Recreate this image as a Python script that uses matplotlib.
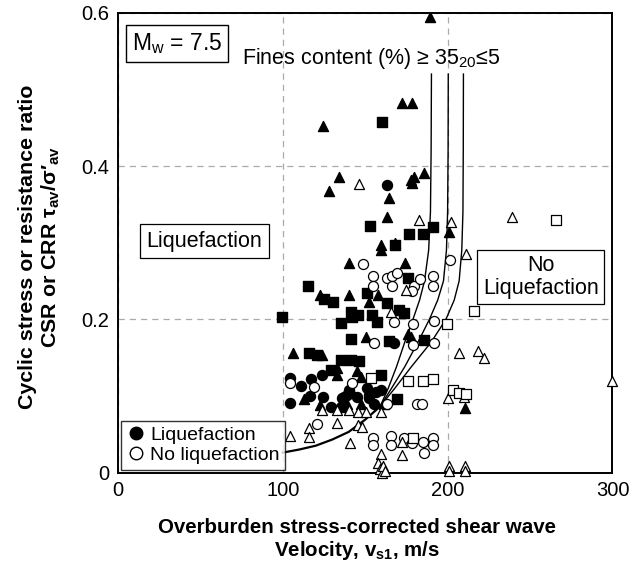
import matplotlib
matplotlib.use("Agg")
import matplotlib.pyplot as plt
from matplotlib.lines import Line2D

plt.rcParams['font.family'] = ['Liberation Sans', 'DejaVu Sans']
plt.rcParams['mathtext.fontset'] = 'custom'
plt.rcParams['mathtext.rm'] = 'Liberation Sans'
plt.rcParams['mathtext.it'] = 'Liberation Sans:italic'
plt.rcParams['mathtext.bf'] = 'Liberation Sans:bold'

# --- data (vs1 in m/s, ratio) ---
liq_circle_x = [163.5, 104.7, 111.2, 117.3, 124.0, 104.3, 116.8, 124.6, 167.5, 136.1,
                139.2, 145.3, 151.3, 152.3, 159.4, 155.4, 129.0, 135.1, 137.1, 140.1,
                156.4, 152.3, 137.1]
liq_circle_y = [0.375, 0.123, 0.113, 0.122, 0.127, 0.091, 0.100, 0.098, 0.169, 0.097,
                0.101, 0.099, 0.110, 0.097, 0.108, 0.090, 0.086, 0.086, 0.099, 0.108,
                0.105, 0.101, 0.086]

liq_tri_x = [189.3, 124.6, 172.2, 178.7, 134.1, 128.0, 164.5, 177.7, 179.7, 185.4,
             178.7, 163.1, 201.0, 159.4, 159.4, 168.0, 140.1, 174.0, 122.9, 140.4,
             152.3, 157.8, 150.3, 175.7, 177.7, 106.3, 124.0, 133.1, 133.1, 145.3,
             147.3, 112.8, 142.2, 147.3, 139.2, 161.4, 122.9, 210.5]
liq_tri_y = [0.595, 0.452, 0.482, 0.482, 0.385, 0.367, 0.358, 0.382, 0.386, 0.391,
             0.378, 0.334, 0.314, 0.297, 0.290, 0.300, 0.274, 0.273, 0.232, 0.232,
             0.222, 0.232, 0.177, 0.181, 0.177, 0.156, 0.153, 0.136, 0.127, 0.132,
             0.125, 0.096, 0.105, 0.090, 0.090, 0.090, 0.088, 0.084]

liq_sq_x = [160.5, 152.9, 190.9, 176.6, 184.8, 168.0, 175.7, 115.5, 124.9, 130.7,
            150.9, 163.5, 170.6, 173.6, 99.8, 141.2, 145.6, 154.4, 135.1, 142.2,
            157.4, 141.2, 164.5, 185.8, 115.8, 120.9, 135.1, 141.2, 146.2, 129.0,
            159.4, 169.6]
liq_sq_y = [0.457, 0.322, 0.321, 0.311, 0.311, 0.297, 0.254, 0.243, 0.226, 0.222,
            0.234, 0.221, 0.212, 0.208, 0.203, 0.210, 0.206, 0.206, 0.195, 0.203,
            0.197, 0.174, 0.171, 0.173, 0.156, 0.153, 0.147, 0.147, 0.145, 0.134,
            0.127, 0.096]

noliq_circle_x = [148.9, 155.0, 163.5, 166.5, 169.6, 166.5, 155.0, 179.7, 183.3, 191.2,
                  191.2, 178.7, 167.2, 179.3, 191.5, 155.4, 179.3, 191.5, 201.4, 142.2,
                  104.7, 118.9, 120.5, 181.3, 184.2, 163.5, 155.0, 155.0, 165.9, 165.9,
                  173.6, 178.7, 185.8, 190.9, 190.9, 184.8]
noliq_circle_y = [0.272, 0.256, 0.254, 0.256, 0.261, 0.243, 0.243, 0.243, 0.252, 0.256,
                  0.243, 0.237, 0.197, 0.194, 0.198, 0.169, 0.166, 0.169, 0.277, 0.117,
                  0.117, 0.111, 0.063, 0.089, 0.089, 0.090, 0.045, 0.036, 0.048, 0.036,
                  0.045, 0.038, 0.026, 0.045, 0.036, 0.040]

noliq_tri_x = [146.2, 182.7, 202.0, 211.0, 174.6, 165.9, 207.0, 239.1, 218.6, 221.9,
               300.0, 200.0, 210.0, 124.0, 133.1, 140.1, 145.6, 150.3, 159.4, 104.7,
               115.8, 115.8, 133.1, 145.6, 148.3, 140.6, 172.6, 172.6, 159.4, 158.0,
               159.0, 160.0, 161.0, 162.0, 201.0, 201.0, 210.5, 210.5]
noliq_tri_y = [0.377, 0.330, 0.327, 0.285, 0.238, 0.210, 0.156, 0.334, 0.158, 0.150,
               0.120, 0.097, 0.098, 0.082, 0.082, 0.082, 0.079, 0.079, 0.079, 0.048,
               0.058, 0.047, 0.064, 0.062, 0.060, 0.039, 0.040, 0.023, 0.024, 0.012,
               0.005, 0.000, 0.008, 0.002, 0.008, 0.002, 0.008, 0.002]

noliq_sq_x = [265.9, 215.8, 199.6, 153.3, 175.7, 184.8, 190.9, 203.0, 207.0, 211.1, 179.3]
noliq_sq_y = [0.330, 0.211, 0.194, 0.123, 0.119, 0.119, 0.122, 0.108, 0.104, 0.103, 0.045]

# CRR boundary curves (shared lower branch, then one branch per fines content)
curve_low_x = [100, 110, 120, 130, 140, 150, 159]
curve_low_y = [0.026, 0.030, 0.035, 0.043, 0.053, 0.069, 0.086]
curve_fc35_x = [159, 164, 169, 174, 179, 183, 186, 188.5, 189.6, 190.0, 190.2]
curve_fc20_x = [159, 166, 174, 182, 189, 194, 197.5, 199.3, 200.0, 200.3, 200.4]
curve_fc5_x = [159, 168, 178, 190, 199, 204, 207, 208.6, 209.3, 209.5, 209.6]
curve_up_y = [0.086, 0.110, 0.138, 0.170, 0.200, 0.225, 0.250, 0.290, 0.340, 0.420, 0.520]

fig = plt.figure(figsize=(6.42, 5.64), dpi=100)
ax = fig.add_axes([0.1836, 0.1622, 0.7704, 0.8152])

ax.plot(curve_low_x, curve_low_y, color='black', lw=1.6, zorder=2)
for cx in (curve_fc35_x, curve_fc20_x, curve_fc5_x):
    ax.plot(cx, curve_up_y, color='black', lw=1.0, zorder=2)

ms = 52
ax.scatter(liq_circle_x, liq_circle_y, s=ms, marker='o', c='black', zorder=3)
ax.scatter(liq_tri_x, liq_tri_y, s=ms, marker='^', c='black', zorder=3)
ax.scatter(liq_sq_x, liq_sq_y, s=ms, marker='s', c='black', zorder=3)
ax.scatter(noliq_circle_x, noliq_circle_y, s=ms, marker='o', facecolors='white',
           edgecolors='black', linewidths=0.9, zorder=3)
ax.scatter(noliq_tri_x, noliq_tri_y, s=ms, marker='^', facecolors='white',
           edgecolors='black', linewidths=0.9, zorder=3, clip_on=False)
ax.scatter(noliq_sq_x, noliq_sq_y, s=ms, marker='s', facecolors='white',
           edgecolors='black', linewidths=0.9, zorder=3)

ax.set_xlim(0, 300)
ax.set_ylim(0, 0.6)
ax.set_xticks([0, 100, 200, 300])
ax.set_yticks([0, 0.2, 0.4, 0.6])
ax.set_yticklabels(['0', '0.2', '0.4', '0.6'])
ax.tick_params(labelsize=14.5, direction='in', length=0, pad=6)
ax.grid(True, color='#aaaaaa', linestyle=(0, (5, 4)), lw=0.9)
ax.set_axisbelow(True)
for sp in ax.spines.values():
    sp.set_linewidth(1.4)

ax.set_xlabel('Overburden stress-corrected shear wave\nVelocity, v$_{\\mathbf{s1}}$, m/s',
              fontsize=14.8, fontweight='bold', linespacing=1.1)
ax.xaxis.set_label_coords(0.483, -0.100, transform=ax.transAxes)
ax.xaxis.label.set_va('top')
ax.set_ylabel('Cyclic stress or resistance ratio\nCSR or CRR \u03c4$_{\\mathbf{av}}$/\u03c3\u2032$_{\\mathbf{av}}$',
              fontsize=15.4, fontweight='bold', linespacing=1.2)
ax.yaxis.set_label_coords(-0.112, 0.49)

box = dict(boxstyle='square,pad=0.25', fc='white', ec='black', lw=1.0)
ax.text(35.9, 0.560, 'M$_\\mathrm{w}$ = 7.5', fontsize=16.5, ha='center', va='center', bbox=box)
ax.text(75, 0.540, 'Fines content (%) \u2265 35$_{\\mathrm{20}}$\u22645', fontsize=15.5,
        ha='left', va='center')
ax.text(52.4, 0.302, 'Liquefaction', fontsize=15.5, ha='center', va='center',
        bbox=dict(boxstyle='square,pad=0.3', fc='white', ec='black', lw=0.9))
ax.text(256.5, 0.255, 'No\nLiquefaction', fontsize=15.5, ha='center', va='center',
        linespacing=1.1, bbox=dict(boxstyle='square,pad=0.25', fc='white', ec='black', lw=0.9))

handles = [Line2D([], [], marker='o', ls='', mfc='black', mec='black', ms=9),
           Line2D([], [], marker='o', ls='', mfc='white', mec='black', ms=9)]
leg = ax.legend(handles, ['Liquefaction', 'No liquefaction'], loc='lower left',
                fontsize=14, frameon=True, fancybox=False, handletextpad=0.2,
                borderpad=0.3, labelspacing=0.1, handlelength=1.0,
                borderaxespad=0.15)
leg.get_frame().set_edgecolor('black')
leg.get_frame().set_linewidth(1.0)

fig.savefig('out.png', dpi=100)
